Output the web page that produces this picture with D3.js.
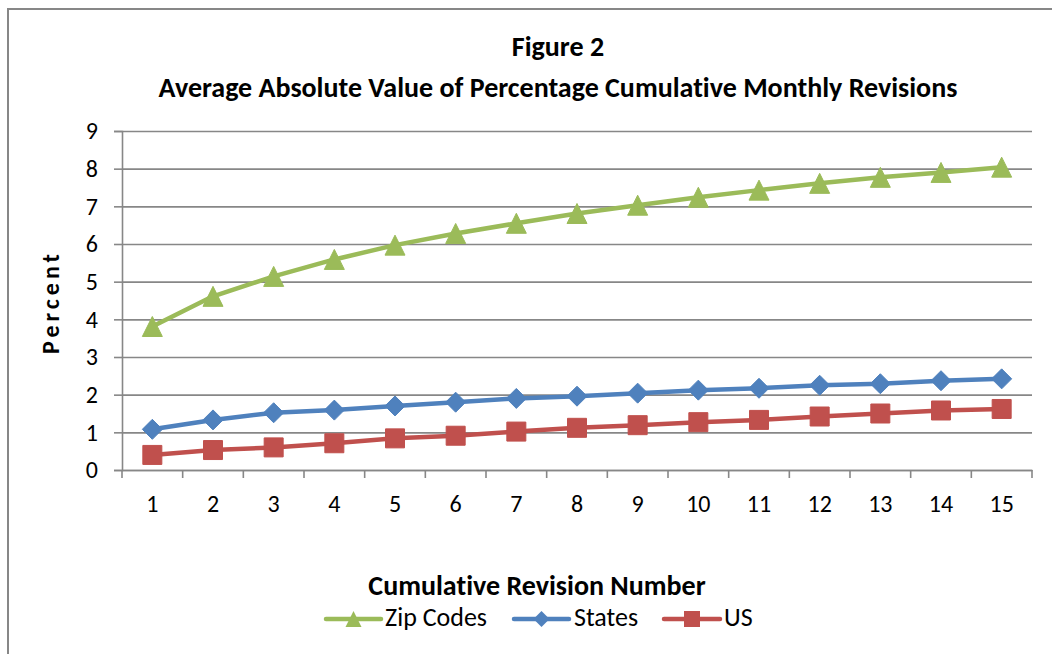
<!DOCTYPE html>
<html>
<head>
<meta charset="utf-8">
<script src="https://cdn.jsdelivr.net/npm/d3@7"></script>
<style>
  html, body { margin: 0; padding: 0; background: #fff; }
  svg { display: block; }
  text { font-family: Carlito, Lato, "Open Sans", sans-serif; fill: #000; font-variant-ligatures: none; }
</style>
</head>
<body>
<svg id="chart" width="1052" height="654"></svg>
<script>
const categories = ["1","2","3","4","5","6","7","8","9","10","11","12","13","14","15"];
const zipCodes = [3.81, 4.61, 5.14, 5.59, 5.97, 6.28, 6.55, 6.81, 7.03, 7.24, 7.43, 7.61, 7.77, 7.90, 8.04];
const states   = [1.08, 1.33, 1.52, 1.59, 1.70, 1.80, 1.90, 1.96, 2.04, 2.12, 2.17, 2.25, 2.29, 2.37, 2.42];
const us       = [0.40, 0.53, 0.60, 0.71, 0.84, 0.91, 1.02, 1.12, 1.19, 1.27, 1.33, 1.42, 1.50, 1.58, 1.62];
const yTicks = [0,1,2,3,4,5,6,7,8,9];
const seriesNames = ["Zip Codes", "States", "US"];
const titleLines = ["Figure 2", "Average Absolute Value of Percentage Cumulative Monthly Revisions"];
const xTitle = "Cumulative Revision Number";
const yTitle = "Percent";

const series = [
  {name: seriesNames[0], values: zipCodes, color: "#9BBB59", marker: "triangle"},
  {name: seriesNames[1], values: states,   color: "#4F81BD", marker: "diamond"},
  {name: seriesNames[2], values: us,       color: "#C0504D", marker: "square"}
];

const svg = d3.select("#chart");
const gray = "#878787";

// outer frame (open on right/bottom, extends past viewport)
svg.append("path")
  .attr("d", "M8,660 L8,9 L1060,9")
  .attr("fill", "none").attr("stroke", gray).attr("stroke-width", 2);

const plot = {left: 122, right: 1032, top: 131, bottom: 470};
const x = d3.scaleBand().domain(categories).range([plot.left, plot.right]).padding(0);
const y = d3.scaleLinear().domain([0, 9]).range([plot.bottom, plot.top]);
const cx = c => x(c) + x.bandwidth() / 2;

// title
svg.append("text").attr("x", 558).attr("y", 56).attr("text-anchor", "middle")
  .attr("font-size", 28).attr("font-weight", "bold").text(titleLines[0]);
svg.append("text").attr("x", 558).attr("y", 97).attr("text-anchor", "middle")
  .attr("font-size", 28).attr("font-weight", "bold").text(titleLines[1]);

// gridlines
const grid = svg.append("g").attr("transform", `translate(${plot.left},0)`)
  .call(d3.axisLeft(y).tickValues(yTicks).tickSize(-(plot.right - plot.left)).tickFormat(""));
grid.select(".domain").remove();
grid.selectAll("line").attr("stroke", gray).attr("stroke-width", 1.6);

// y axis
const yAxis = svg.append("g").attr("transform", `translate(${plot.left},0)`)
  .call(d3.axisLeft(y).tickValues(yTicks).tickSize(8).tickPadding(16).tickFormat(d3.format("d")));
yAxis.select(".domain").attr("stroke", gray).attr("stroke-width", 1.6);
yAxis.selectAll("line").attr("stroke", gray).attr("stroke-width", 1.6);
yAxis.selectAll("text").attr("font-size", 24).attr("font-family", "Carlito, Lato, sans-serif");

// x axis
const xAxis = svg.append("g").attr("transform", `translate(0,${plot.bottom})`)
  .call(d3.axisBottom(x).tickSize(0).tickPadding(25));
xAxis.select(".domain").attr("stroke", gray).attr("stroke-width", 1.6);
xAxis.selectAll("text").attr("font-size", 24).attr("font-family", "Carlito, Lato, sans-serif");
const boundaries = categories.map(c => x(c)).concat([x(categories[categories.length - 1]) + x.bandwidth()]);
xAxis.selectAll(".bnd").data(boundaries).join("line").attr("class", "bnd")
  .attr("x1", d => d).attr("x2", d => d).attr("y1", 0).attr("y2", 8)
  .attr("stroke", gray).attr("stroke-width", 1.6);

// axis titles
svg.append("text").attr("transform", "translate(59,302) rotate(-90)")
  .attr("text-anchor", "middle").attr("font-size", 24).attr("font-weight", "bold")
  .attr("letter-spacing", 4).text(yTitle);
svg.append("text").attr("x", 537).attr("y", 595).attr("text-anchor", "middle")
  .attr("font-size", 28).attr("font-weight", "bold").text(xTitle);

// markers
function markerPath(type, s) {
  const h = s / 2;
  if (type === "triangle") return `M0,${-h} L${h},${h} L${-h},${h} Z`;
  if (type === "diamond") return `M0,${-h} L${h},0 L0,${h} L${-h},0 Z`;
  return `M${-h},${-h} L${h},${-h} L${h},${h} L${-h},${h} Z`;
}
const markerSize = {triangle: 20, diamond: 20, square: 19};

const line = d3.line().x((d, i) => cx(categories[i])).y(d => y(d));
series.forEach(s => {
  const g = svg.append("g");
  g.append("path").attr("d", line(s.values)).attr("fill", "none")
    .attr("stroke", s.color).attr("stroke-width", 4.5).attr("stroke-linejoin", "round");
  g.selectAll("path.m").data(s.values).join("path").attr("class", "m")
    .attr("transform", (d, i) => `translate(${cx(categories[i])},${y(d)})`)
    .attr("d", markerPath(s.marker, markerSize[s.marker]))
    .attr("fill", s.color).attr("stroke", s.color).attr("stroke-width", 1);
});

// legend
const legendItems = [
  {s: series[0], x0: 326, x1: 381, tx: 385},
  {s: series[1], x0: 514, x1: 569, tx: 574},
  {s: series[2], x0: 664, x1: 720, tx: 724}
];
const ly = 619;
legendItems.forEach(it => {
  const g = svg.append("g");
  g.append("line").attr("x1", it.x0).attr("x2", it.x1).attr("y1", ly).attr("y2", ly)
    .attr("stroke", it.s.color).attr("stroke-width", 4.5).attr("stroke-linecap", "round");
  g.append("path").attr("transform", `translate(${(it.x0 + it.x1) / 2},${ly})`)
    .attr("d", markerPath(it.s.marker, 16))
    .attr("fill", it.s.color);
  g.append("text").attr("x", it.tx).attr("y", 626).attr("font-size", 26).text(it.s.name);
});
</script>
</body>
</html>
